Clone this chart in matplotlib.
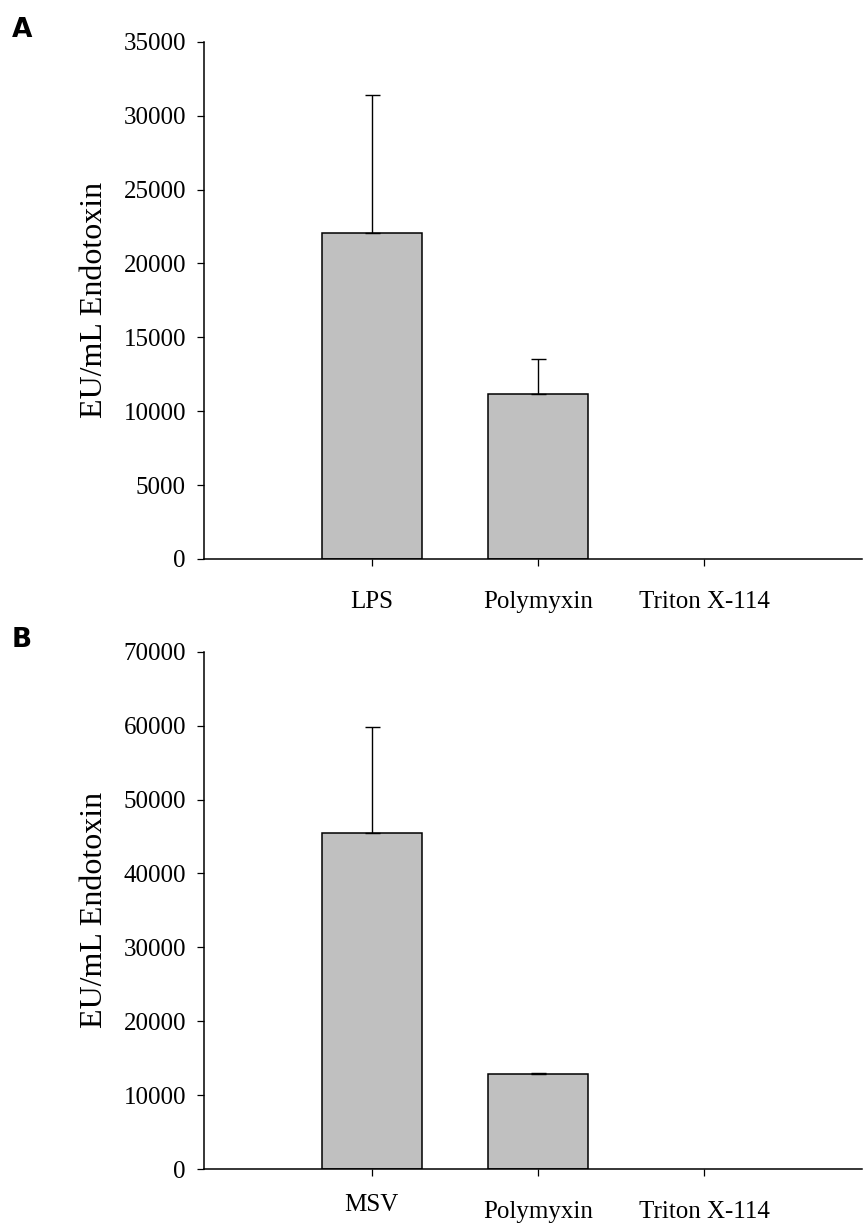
import numpy as np
import matplotlib
matplotlib.use('Agg')
import matplotlib.pyplot as plt

# endotoxin levels (EU/mL), mean and upper error
labels_a = ['LPS', 'Polymyxin', 'Triton X-114']
means_a = [22050, 11180, 0]
errs_a = [9340, 2370, 0]

labels_b = ['MSV', 'Polymyxin', 'Triton X-114']
means_b = [45400, 12800, 0]
errs_b = [14400, 200, 0]

ticks_a = np.arange(0, 35001, 5000)
ticks_b = np.arange(0, 70001, 10000)

plt.rcParams['font.family'] = ['Liberation Serif', 'DejaVu Serif']

fig = plt.figure(figsize=(8.64, 12.24), dpi=100)

W, H = 864., 1224.
ax_left = 204 / W
ax_width = (862 - 204) / W
ax_height = 517.3 / H


def draw_panel(ax, labels, means, errs, yticks, letter, letter_y):
    x = np.arange(len(labels))
    bars = ax.bar(x, means, width=0.6, color='#c0c0c0', edgecolor='black', linewidth=1.1, zorder=2)
    # empty groups: no outline drawn on top of the axis
    for b, m in zip(bars, means):
        if m == 0:
            b.set_linewidth(0)

    # only the upper half of the error bar is shown
    idx = [i for i in range(len(errs)) if errs[i] > 0]
    ax.errorbar(x[idx], np.array(means)[idx],
                yerr=[np.zeros(len(idx)), np.array(errs)[idx]],
                fmt='none', ecolor='black', elinewidth=1.0, capsize=5.4, capthick=1.0, zorder=3)

    ax.set_xlim(-1.01, 2.95)
    ax.set_ylim(yticks[0], yticks[-1])
    ax.set_yticks(yticks)
    ax.set_yticklabels([str(t) for t in yticks])
    ax.set_xticks(x)
    ax.set_xticklabels(labels)

    for s in ['top', 'right']:
        ax.spines[s].set_visible(False)
    for s in ['left', 'bottom']:
        ax.spines[s].set_linewidth(1.1)

    ax.tick_params(axis='y', direction='out', length=5, width=0.9, pad=8, labelsize=18)
    ax.tick_params(axis='x', direction='out', length=5, width=0.9, pad=18, labelsize=18)

    ax.text(-0.166, 0.5, 'EU/mL Endotoxin', transform=ax.transAxes, rotation=90,
            ha='center', va='center', fontsize=23)

    fig.text(12 / W, 1 - letter_y / H, letter, family='DejaVu Sans', fontweight='bold',
             fontsize=19, ha='left', va='center')


ax_a = fig.add_axes([ax_left, 1 - 559 / H, ax_width, ax_height])
draw_panel(ax_a, labels_a, means_a, errs_a, ticks_a, 'A', 30)

ax_b = fig.add_axes([ax_left, 1 - 1169 / H, ax_width, ax_height])
draw_panel(ax_b, labels_b, means_b, errs_b, ticks_b, 'B', 640)
# the first category label in panel B sits a little higher
ax_b.xaxis.get_major_ticks()[0].set_pad(13)

fig.savefig('out.png', dpi=100)
